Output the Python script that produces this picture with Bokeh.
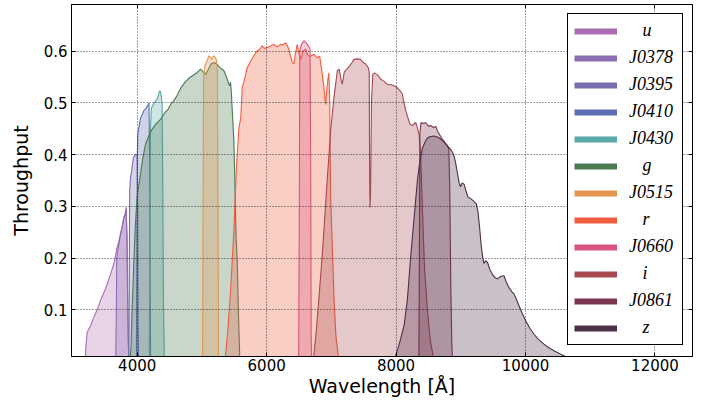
import numpy as np
from bokeh.plotting import figure
from bokeh.models import Range1d, FixedTicker, LinearAxis, Legend, LegendItem, ColumnDataSource
from bokeh.embed import file_html
from bokeh.resources import INLINE

# ---------------- data ----------------
filter_names = ["u", "J0378", "J0395", "J0410", "J0430", "g",
                "J0515", "r", "J0660", "i", "J0861", "z"]
filter_colors = ["#ac6db4", "#8c6eb2", "#7a6cb0", "#5f6eb4", "#5aa8a8", "#4a7a50",
                 "#e3964f", "#f05c40", "#d7557d", "#a64850", "#7a3450", "#4c3048"]

u_wl = [3195, 3207, 3227, 3280, 3329, 3380, 3432, 3485, 3536, 3590, 3639, 3690,
        3715, 3742, 3770, 3793, 3815, 3830, 3840, 3850, 3860, 3872]
u_tp = [0.0, 0.03, 0.057, 0.07, 0.086, 0.10, 0.118, 0.133, 0.15, 0.17, 0.189, 0.221,
        0.232, 0.247, 0.262, 0.279, 0.286, 0.298, 0.24, 0.14, 0.05, 0.0]

j0378_wl = [3668, 3678, 3684, 3700, 3742, 3770, 3793, 3815, 3828, 3845, 3856, 3868]
j0378_tp = [0.0, 0.10, 0.20, 0.215, 0.245, 0.262, 0.275, 0.285, 0.295, 0.24, 0.10, 0.0]

j0395_wl = [3870, 3878, 3884, 3897, 3915, 3940, 3960, 3974, 4000, 4008, 4014, 4022]
j0395_tp = [0.0, 0.15, 0.33, 0.356, 0.369, 0.394, 0.398, 0.40, 0.40, 0.30, 0.08, 0.0]

j0410_wl = [3988, 3996, 4002, 4010, 4030, 4051, 4080, 4102, 4140, 4170, 4182, 4192, 4200, 4208]
j0410_tp = [0.0, 0.25, 0.40, 0.44, 0.455, 0.47, 0.478, 0.485, 0.49, 0.497, 0.50, 0.40, 0.15, 0.0]

j0430_wl = [4185, 4195, 4205, 4220, 4260, 4308, 4330, 4344, 4360, 4375, 4385, 4395, 4405, 4420]
j0430_tp = [0.0, 0.20, 0.45, 0.49, 0.50, 0.507, 0.515, 0.523, 0.522, 0.51, 0.495, 0.35, 0.12, 0.0]

g_wl = [3890, 3905, 3923, 3950, 3974, 4000, 4025, 4060, 4090, 4128, 4200, 4280, 4360,
        4420, 4480, 4520, 4566, 4620, 4680, 4740, 4800, 4860, 4920, 4979, 5020, 5056,
        5100, 5140, 5185, 5230, 5280, 5340, 5380, 5417, 5430, 5442, 5455, 5469, 5494,
        5530, 5546, 5565, 5587]
g_tp = [0.0, 0.03, 0.105, 0.20, 0.27, 0.32, 0.34, 0.37, 0.395, 0.42, 0.443, 0.458, 0.468,
        0.48, 0.488, 0.498, 0.504, 0.515, 0.53, 0.54, 0.548, 0.553, 0.558, 0.565, 0.56, 0.555,
        0.565, 0.575, 0.578, 0.575, 0.568, 0.562, 0.55, 0.536, 0.533, 0.54, 0.52, 0.485, 0.427,
        0.234, 0.195, 0.09, 0.0]

j0515_wl = [5010, 5018, 5025, 5046, 5075, 5108, 5130, 5150, 5185, 5222, 5240, 5248, 5258]
j0515_tp = [0.0, 0.30, 0.55, 0.571, 0.58, 0.591, 0.588, 0.584, 0.591, 0.584, 0.56, 0.30, 0.0]

r_wl = [5355, 5400, 5443, 5494, 5536, 5572, 5600, 5623, 5648, 5700, 5750, 5803, 5850,
        5890, 5932, 5970, 6010, 6060, 6113, 6160, 6216, 6250, 6293, 6340, 6370, 6396,
        6421, 6445, 6473, 6500, 6530, 6560, 6602, 6640, 6680, 6730, 6780, 6820, 6860,
        6885, 6911, 6937, 6962, 6975, 6989, 7010, 7041, 7070, 7118]
r_tp = [0.0, 0.06, 0.137, 0.253, 0.382, 0.452, 0.47, 0.53, 0.54, 0.568, 0.58, 0.591, 0.60,
        0.603, 0.61, 0.605, 0.607, 0.61, 0.613, 0.608, 0.613, 0.612, 0.616, 0.605, 0.59, 0.578,
        0.575, 0.595, 0.613, 0.595, 0.584, 0.60, 0.604, 0.591, 0.59, 0.594, 0.587, 0.59, 0.555,
        0.53, 0.497, 0.536, 0.558, 0.50, 0.317, 0.24, 0.124, 0.05, 0.0]

j0660_wl = [6495, 6505, 6512, 6537, 6578, 6630, 6671, 6680, 6688, 6696]
j0660_tp = [0.0, 0.30, 0.60, 0.613, 0.62, 0.613, 0.604, 0.40, 0.05, 0.0]

i_wl = [6720, 6760, 6800, 6850, 6885, 6930, 6989, 7040, 7092, 7120, 7150, 7169, 7200,
        7240, 7280, 7320, 7349, 7401, 7450, 7490, 7530, 7570, 7585, 7592, 7597, 7605,
        7620, 7640, 7669, 7720, 7770, 7812, 7860, 7920, 7967, 8010, 8044, 8070, 8097,
        8122, 8150, 8174, 8214, 8250, 8303, 8329, 8355, 8380, 8408, 8440, 8485, 8530, 8590]
i_tp = [0.0, 0.05, 0.11, 0.19, 0.253, 0.34, 0.446, 0.51, 0.562, 0.565, 0.545, 0.536, 0.56,
        0.565, 0.571, 0.578, 0.584, 0.585, 0.584, 0.578, 0.575, 0.568, 0.56, 0.35, 0.298, 0.32,
        0.50, 0.555, 0.558, 0.553, 0.545, 0.542, 0.536, 0.535, 0.533, 0.53, 0.526, 0.522, 0.517,
        0.50, 0.485, 0.475, 0.459, 0.456, 0.462, 0.452, 0.44, 0.40, 0.29, 0.18, 0.098, 0.04, 0.0]

j0861_wl = [8352, 8360, 8368, 8385, 8420, 8457, 8500, 8540, 8585, 8612, 8650, 8690,
            8715, 8750, 8792, 8815, 8830, 8845, 8860, 8872]
j0861_tp = [0.0, 0.20, 0.44, 0.462, 0.46, 0.462, 0.455, 0.456, 0.452, 0.455, 0.443, 0.435,
            0.43, 0.424, 0.418, 0.41, 0.33, 0.15, 0.04, 0.0]

z_wl = [7980, 7995, 8051, 8124, 8175, 8227, 8280, 8329, 8370, 8406, 8450, 8483, 8530,
        8586, 8638, 8690, 8740, 8792, 8844, 8872, 8895, 8923, 8947, 8975, 8995, 9020,
        9050, 9080, 9110, 9153, 9200, 9240, 9265, 9290, 9315, 9340, 9358, 9385, 9411,
        9450, 9488, 9530, 9566, 9620, 9667, 9700, 9745, 9790, 9822, 9860, 9899, 9950,
        10003, 10070, 10131, 10200, 10286, 10360, 10441, 10520, 10586, 10650, 10750]
z_tp = [0.0, 0.012, 0.035, 0.07, 0.12, 0.205, 0.28, 0.35, 0.39, 0.412, 0.425, 0.432, 0.435,
        0.436, 0.434, 0.43, 0.424, 0.417, 0.41, 0.404, 0.398, 0.382, 0.365, 0.345, 0.338, 0.345,
        0.343, 0.33, 0.318, 0.315, 0.31, 0.305, 0.29, 0.26, 0.225, 0.20, 0.19, 0.195, 0.192,
        0.178, 0.169, 0.162, 0.160, 0.165, 0.166, 0.155, 0.143, 0.135, 0.131, 0.12, 0.108, 0.093,
        0.079, 0.064, 0.053, 0.043, 0.034, 0.027, 0.021, 0.016, 0.012, 0.008, 0.003]

filter_wl = [u_wl, j0378_wl, j0395_wl, j0410_wl, j0430_wl, g_wl,
             j0515_wl, r_wl, j0660_wl, i_wl, j0861_wl, z_wl]
filter_tp = [u_tp, j0378_tp, j0395_tp, j0410_tp, j0430_tp, g_tp,
             j0515_tp, r_tp, j0660_tp, i_tp, j0861_tp, z_tp]

x_ticks = [4000, 6000, 8000, 10000, 12000]
y_ticks = [0.1, 0.2, 0.3, 0.4, 0.5, 0.6]
x_label = "Wavelength [Å]"
y_label = "Throughput"

# ---------------- figure ----------------
p = figure(width=711, height=403, output_backend="svg", toolbar_location=None,
           x_range=Range1d(2985, 12580), y_range=Range1d(0.01, 0.69),
           min_border_left=71, min_border_right=19, min_border_top=4, min_border_bottom=47)
p.background_fill_color = "white"
p.border_fill_color = "white"
p.outline_line_color = "black"
p.outline_line_width = 1

legend_items = []
for name, col, wl, tp in zip(filter_names, filter_colors, filter_wl, filter_tp):
    src = ColumnDataSource(dict(x=wl, y=tp, base=np.zeros(len(wl))))
    p.varea(x="x", y1="base", y2="y", source=src, fill_color=col, fill_alpha=0.3)
    p.line(x="x", y="y", source=src, line_color=col, line_width=1.1)
    # legend swatch: a thick line renderer with a single undefined point (draws nothing in the plot)
    swatch = p.line(x=[np.nan], y=[np.nan], line_color=col, line_width=6)
    lab = name if name.startswith("J") else "\u00a0\u00a0\u00a0" + name
    legend_items.append(LegendItem(label=lab, renderers=[swatch]))

# axes
for ax in [p.xaxis[0], p.yaxis[0]]:
    ax.major_tick_in = 4
    ax.major_tick_out = 0
    ax.minor_tick_in = 0
    ax.minor_tick_out = 0
    ax.axis_line_color = "black"
    ax.major_tick_line_color = "black"
    ax.major_label_text_font = "DejaVu Sans"
    ax.major_label_text_font_size = "15px"
    ax.major_label_text_color = "black"
    ax.axis_label_text_font = "DejaVu Sans"
    ax.axis_label_text_font_size = "19px"
    ax.axis_label_text_font_style = "normal"
    ax.axis_label_text_color = "black"

p.xaxis[0].ticker = FixedTicker(ticks=x_ticks)
p.yaxis[0].ticker = FixedTicker(ticks=y_ticks)
p.xaxis[0].axis_label = x_label
p.yaxis[0].axis_label = y_label
p.xaxis[0].major_label_standoff = 2
p.xaxis[0].axis_label_standoff = 1
p.yaxis[0].major_label_standoff = 4
p.yaxis[0].axis_label_standoff = 9

top_ax = LinearAxis(ticker=FixedTicker(ticks=x_ticks))
right_ax = LinearAxis(ticker=FixedTicker(ticks=y_ticks))
for ax in [top_ax, right_ax]:
    ax.major_tick_in = 4
    ax.major_tick_out = 0
    ax.minor_tick_in = 0
    ax.minor_tick_out = 0
    ax.axis_line_color = "black"
    ax.major_tick_line_color = "black"
    ax.major_label_text_font_size = "0px"
    ax.major_label_text_color = None
    ax.major_label_standoff = 0
p.add_layout(top_ax, "above")
p.add_layout(right_ax, "right")

# grid
for gr, tk in [(p.xgrid[0], x_ticks), (p.ygrid[0], y_ticks)]:
    gr.ticker = FixedTicker(ticks=tk)
    gr.grid_line_color = "black"
    gr.grid_line_alpha = 0.75
    gr.grid_line_width = 1
    gr.grid_line_dash = "1 2"
    gr.level = "guide"

legend = Legend(items=legend_items, location="top_right")
legend.margin = 9
legend.padding = 6
legend.spacing = 6
legend.glyph_width = 43
legend.glyph_height = 20
legend.label_height = 20
legend.label_width = 47
legend.label_standoff = 12
legend.label_text_font = "Liberation Serif"
legend.label_text_font_style = "italic"
legend.label_text_font_size = "18px"
legend.label_text_color = "black"
legend.border_line_color = "black"
legend.border_line_width = 1
legend.border_line_alpha = 1
legend.background_fill_color = "white"
legend.background_fill_alpha = 1
p.add_layout(legend, "center")

open("out.html", "w").write(file_html(p, INLINE))
